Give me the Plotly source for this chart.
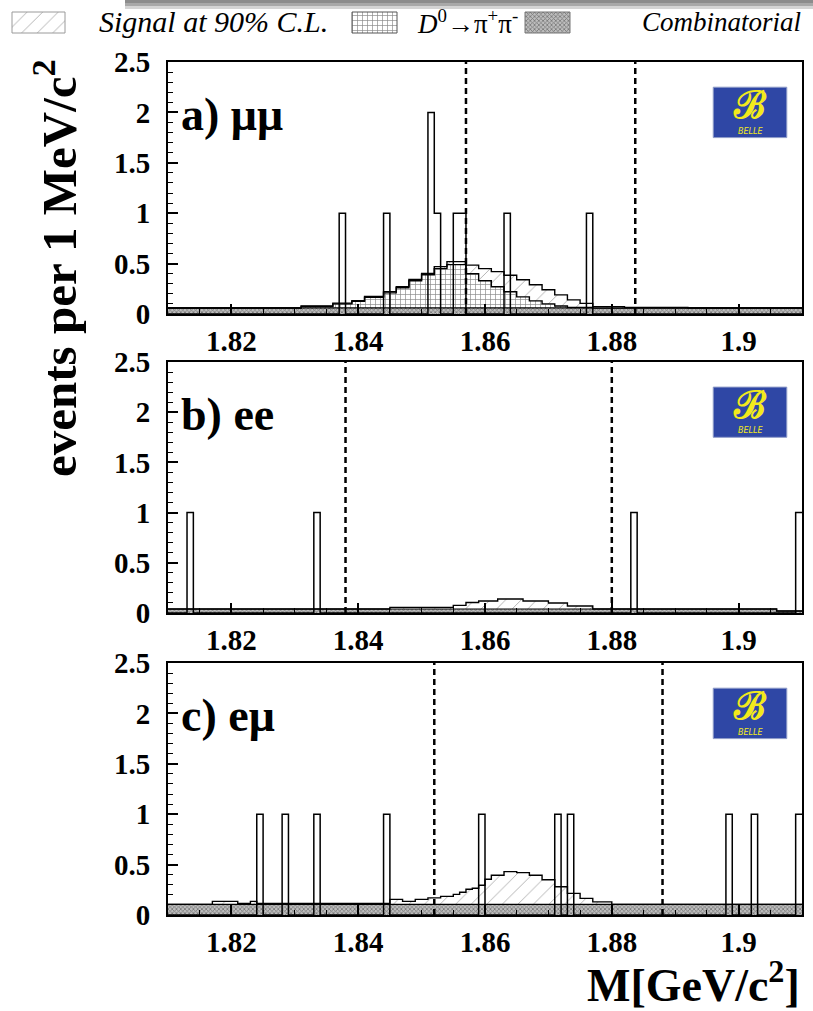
import plotly.graph_objects as go
import numpy as np

# ---------------- data (1 MeV bins, 1.81 - 1.91 GeV) ----------------
X_MIN, X_MAX, BIN = 1.81, 1.91, 0.001
N_BINS = 100
x_tickvals = [1.82, 1.84, 1.86, 1.88, 1.90]
x_ticktext = ["1.82", "1.84", "1.86", "1.88", "1.9"]
y_tickvals = [0, 0.5, 1, 1.5, 2, 2.5]
y_ticktext = ["0", "0.5", "1", "1.5", "2", "2.5"]

# panel a) mu mu
mumu_data_bins = [1.837, 1.844, 1.851, 1.852, 1.855, 1.856, 1.863, 1.876]
mumu_data_counts = [1, 1, 2, 1, 1, 1, 1, 1]
mumu_comb_level = 0.06
mumu_ppi_start = 1.831
mumu_ppi = [0.015, 0.015, 0.015, 0.015, 0.015, 0.04, 0.04, 0.04, 0.065, 0.065,
            0.105, 0.105, 0.105, 0.15, 0.15, 0.20, 0.20, 0.27, 0.27, 0.33,
            0.33, 0.39, 0.39, 0.43, 0.43, 0.43, 0.34, 0.34, 0.27, 0.27,
            0.21, 0.21, 0.16, 0.16, 0.11, 0.11, 0.07, 0.07, 0.04, 0.04,
            0.02, 0.02, 0.005, 0.005, 0.005, 0.005]
mumu_sig_start = 1.831
mumu_sig = [0.005, 0.005, 0.005, 0.005, 0.005, 0.008, 0.008, 0.008, 0.008, 0.008,
            0.008, 0.008, 0.008, 0.012, 0.012, 0.012, 0.012, 0.012, 0.012, 0.012,
            0.012, 0.02, 0.02, 0.03, 0.03, 0.03, 0.085, 0.085, 0.12, 0.12,
            0.15, 0.15, 0.165, 0.165, 0.17, 0.17, 0.16, 0.16, 0.14, 0.14,
            0.11, 0.11, 0.075, 0.075, 0.04, 0.04, 0.013, 0.013, 0.013, 0.013,
            0.013, 0.006, 0.006, 0.006, 0.006, 0.006, 0.006, 0.006, 0.006, 0.006,
            0.006]
mumu_window = [1.857, 1.8837]

# panel b) e e
ee_data_bins = [1.813, 1.833, 1.883, 1.909]
ee_data_counts = [1, 1, 1, 1]
ee_comb_level = 0.04
ee_comb_tail_start = 1.906
ee_comb_tail_level = 0.02
ee_sig_start = 1.845
ee_sig = [0.016, 0.016, 0.016, 0.016, 0.016, 0.016, 0.016, 0.016, 0.016, 0.016,
          0.036, 0.036, 0.065, 0.065, 0.08, 0.08, 0.08, 0.10, 0.10, 0.10,
          0.10, 0.08, 0.08, 0.08, 0.08, 0.06, 0.06, 0.06, 0.03, 0.03,
          0.03, 0.03]
ee_window = [1.838, 1.880]

# panel c) e mu
emu_data_bins = [1.824, 1.828, 1.833, 1.844, 1.859, 1.871, 1.873, 1.898, 1.902, 1.909]
emu_data_counts = [1, 1, 1, 1, 1, 1, 1, 1, 1, 1]
emu_comb_level = 0.105
emu_sig_start = 1.817
emu_sig = [0.03, 0.03, 0.03, 0.03, 0.01, 0.01, 0.03, 0.01, 0.01, 0.01,
           0.01, 0.01, 0.01, 0.01, 0.01, 0.01, 0.01, 0.01, 0.01, 0.01,
           0.01, 0.01, 0.01, 0.01, 0.01, 0.01, 0.01, 0.01, 0.05, 0.05,
           0.03, 0.03, 0.05, 0.05, 0.065, 0.065, 0.08, 0.08, 0.10, 0.12,
           0.15, 0.16, 0.19, 0.25, 0.29, 0.29, 0.325, 0.325, 0.315, 0.315,
           0.29, 0.29, 0.245, 0.245, 0.175, 0.175, 0.11, 0.11, 0.06, 0.06,
           0.025, 0.025, 0.025]
emu_window = [1.852, 1.888]

panel_labels = ["a) μμ", "b) ee", "c) eμ"]
legend_labels = ["<i>Signal at 90% C.L.</i>", "<i>D</i><sup>0</sup>→π<sup>+</sup>π<sup>-</sup>",
                 "<i>Combinatorial</i>"]

# ---------------- helpers ----------------
edges = X_MIN + BIN * np.arange(N_BINS + 1)


def idx(v):
    return int(round((v - X_MIN) / BIN))


def place(start, vals):
    a = np.zeros(N_BINS)
    i0 = idx(start)
    a[i0:i0 + len(vals)] = vals
    return a


def data_hist(bins, counts):
    a = np.zeros(N_BINS)
    for b, c in zip(bins, counts):
        a[idx(b)] += c
    return a


def step_y(a):
    return list(a) + [a[-1]]


mumu_comb = np.full(N_BINS, mumu_comb_level)
ee_comb = np.full(N_BINS, ee_comb_level)
ee_comb[idx(ee_comb_tail_start):] = ee_comb_tail_level
emu_comb = np.full(N_BINS, emu_comb_level)

panels = [
    dict(comb=mumu_comb, ppi=place(mumu_ppi_start, mumu_ppi), sig=place(mumu_sig_start, mumu_sig),
         data=data_hist(mumu_data_bins, mumu_data_counts), window=mumu_window),
    dict(comb=ee_comb, ppi=None, sig=place(ee_sig_start, ee_sig),
         data=data_hist(ee_data_bins, ee_data_counts), window=ee_window),
    dict(comb=emu_comb, ppi=None, sig=place(emu_sig_start, emu_sig),
         data=data_hist(emu_data_bins, emu_data_counts), window=emu_window),
]

W, H = 813, 1011
def px_x(p):
    return p / W
def px_y(p):
    return 1 - p / H

x_dom = [px_x(168), px_x(802)]
y_doms = [[px_y(314), px_y(62)], [px_y(613), px_y(362)], [px_y(915), px_y(663)]]

COMB_PAT = dict(shape="x", fgcolor="#2e2e2e", bgcolor="#bdbdbd", size=3, solidity=0.45)
PPI_PAT = dict(shape="+", fgcolor="#111111", bgcolor="white", size=5, solidity=0.25)
SIG_PAT = dict(shape="/", fgcolor="#555555", bgcolor="white", size=11, solidity=0.08)

fig = go.Figure()
for k, p in enumerate(panels):
    xa = "x" if k == 0 else f"x{k+1}"
    ya = "y" if k == 0 else f"y{k+1}"
    level = p["comb"].copy()
    fig.add_trace(go.Scatter(x=edges, y=step_y(level), mode="lines", line=dict(shape="hv", color="black", width=1.2),
                             fill="tozeroy", fillpattern=COMB_PAT, xaxis=xa, yaxis=ya, showlegend=False,
                             hoverinfo="skip"))
    if p["ppi"] is not None:
        level = level + p["ppi"]
        fig.add_trace(go.Scatter(x=edges, y=step_y(level), mode="lines",
                                 line=dict(shape="hv", color="black", width=1.4),
                                 fill="tonexty", fillpattern=PPI_PAT, xaxis=xa, yaxis=ya, showlegend=False,
                                 hoverinfo="skip"))
    level = level + p["sig"]
    fig.add_trace(go.Scatter(x=edges, y=step_y(level), mode="lines", line=dict(shape="hv", color="black", width=1.4),
                             fill="tonexty", fillpattern=SIG_PAT, xaxis=xa, yaxis=ya, showlegend=False,
                             hoverinfo="skip"))
    fig.add_trace(go.Scatter(x=edges, y=step_y(p["data"]), mode="lines",
                             line=dict(shape="hv", color="black", width=1.5),
                             xaxis=xa, yaxis=ya, showlegend=False, hoverinfo="skip"))
    for wv in p["window"]:
        fig.add_shape(type="line", xref=xa, yref=f"{ya} domain", x0=wv, x1=wv, y0=0, y1=1,
                      line=dict(color="black", width=2.5, dash="6px,4px"), layer="above")
    # Belle logo
    fig.add_shape(type="rect", xref=f"{xa} domain", yref=f"{ya} domain", x0=0.86, x1=0.976, y0=0.70, y1=0.90,
                  fillcolor="#2f47a5", line=dict(color="#8f9cc8", width=1), layer="above")
    fig.add_annotation(xref=f"{xa} domain", yref=f"{ya} domain", x=0.918, y=0.83, xanchor="center",
                       yanchor="middle", text="<b>ℬ</b>", showarrow=False,
                       font=dict(family="DejaVu Serif", size=38, color="#f2ea1c"))
    fig.add_annotation(xref=f"{xa} domain", yref=f"{ya} domain", x=0.918, y=0.726, xanchor="center",
                       yanchor="middle", text="<i>BELLE</i>",
                       showarrow=False, font=dict(family="DejaVu Sans", size=8, color="#f2ea1c"))
    # panel label
    fig.add_annotation(xref=f"{xa} domain", yref=f"{ya} domain", x=0.018, y=0.79, xanchor="left",
                       yanchor="middle", text=f"<b>{panel_labels[k]}</b>", showarrow=False,
                       font=dict(family="Liberation Serif", size=46, color="black"))

axis_common = dict(showline=True, mirror=True, linecolor="black", linewidth=2, showgrid=False, zeroline=False,
                   ticks="inside", tickcolor="black", tickwidth=1.5, automargin=False)
tickfont = dict(family="Liberation Serif", size=29, color="black", weight="bold")
for k in range(3):
    xkey = "xaxis" if k == 0 else f"xaxis{k+1}"
    ykey = "yaxis" if k == 0 else f"yaxis{k+1}"
    ya = "y" if k == 0 else f"y{k+1}"
    xa = "x" if k == 0 else f"x{k+1}"
    fig.update_layout({
        xkey: dict(axis_common, domain=x_dom, range=[X_MIN, X_MAX], anchor=ya, tickvals=x_tickvals,
                   ticktext=x_ticktext, ticklen=10, tickfont=tickfont,
                   minor=dict(ticks="inside", dtick=0.005, ticklen=5, tickcolor="black", tickwidth=1)),
        ykey: dict(axis_common, domain=y_doms[k], range=[0, 2.5], anchor=xa, tickvals=y_tickvals,
                   ticktext=y_ticktext, ticklen=10, tickfont=tickfont, ticklabelstandoff=10,
                   minor=dict(ticks="inside", dtick=0.1, ticklen=5, tickcolor="black", tickwidth=1)),
    })

# legend strip (pixel-coordinate helper axis)
fig.update_layout(
    xaxis4=dict(domain=[0, 1], range=[0, W], visible=False, anchor="y4", fixedrange=True, automargin=False),
    yaxis4=dict(domain=[px_y(36), px_y(8)], range=[36, 8], visible=False, anchor="x4", fixedrange=True,
                automargin=False),
)
swatches = [(12, 65, SIG_PAT, "#9a9a9a"), (352, 397, dict(PPI_PAT, size=5), "#555555"),
            (525, 570, COMB_PAT, "#777777")]
text_x = [97, 415, 640]
text_size = [30, 27, 27]
for (x0, x1, pat, lc), tx, lab, ts in zip(swatches, text_x, legend_labels, text_size):
    fig.add_trace(go.Scatter(x=[x0, x1, x1, x0, x0], y=[12, 12, 33, 33, 12], mode="lines", fill="toself",
                             fillpattern=pat, line=dict(color=lc, width=1), xaxis="x4", yaxis="y4",
                             showlegend=False, hoverinfo="skip"))
    fig.add_annotation(xref="x4", yref="y4", x=tx, y=22, xanchor="left", yanchor="middle", text=lab,
                       showarrow=False, font=dict(family="Liberation Serif", size=ts, color="black"))

# scanned shadow bar at top
for (y0, y1, c) in [(0, 3, "#8c8c8c"), (3, 6, "#a8a8a8"), (6, 9, "#d4d4d4")]:
    fig.add_shape(type="rect", xref="paper", yref="paper", x0=px_x(125), x1=1, y0=px_y(y1), y1=px_y(y0),
                  fillcolor=c, line=dict(width=0), layer="below")

# axis titles
fig.add_annotation(xref="paper", yref="paper", x=px_x(55), y=px_y(268), textangle=-90,
                   xanchor="center", yanchor="middle",
                   text="<b>events per 1 MeV/c<sup>2</sup></b>", showarrow=False,
                   font=dict(family="Liberation Serif", size=49, color="black"))
fig.add_annotation(xref="paper", yref="paper", x=px_x(802), y=px_y(982), xanchor="right", yanchor="middle",
                   text="<b>M[GeV/c<sup>2</sup>]</b>", showarrow=False,
                   font=dict(family="Liberation Serif", size=46, color="black"))

fig.update_layout(width=W, height=H, margin=dict(l=0, r=0, t=0, b=0, pad=0, autoexpand=False),
                  paper_bgcolor="white", plot_bgcolor="white", showlegend=False)

fig.write_html("out.html")
